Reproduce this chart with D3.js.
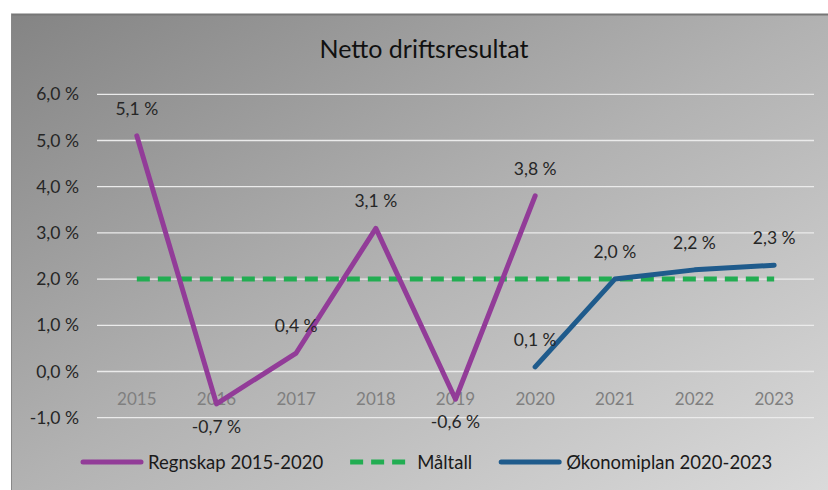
<!DOCTYPE html>
<html>
<head>
<meta charset="utf-8">
<script src="https://cdn.jsdelivr.net/npm/d3@7"></script>
<style>
  body { margin: 0; background: #fff; }
  text { font-family: Lato, "Open Sans", sans-serif; }
</style>
</head>
<body>
<div id="container"></div>
<script>
/** DATA */
const years = ["2015", "2016", "2017", "2018", "2019", "2020", "2021", "2022", "2023"];
const regnskapYears = ["2015", "2016", "2017", "2018", "2019", "2020"];
const regnskap = [5.1, -0.7, 0.4, 3.1, -0.6, 3.8];
const maltall = [2.0, 2.0, 2.0, 2.0, 2.0, 2.0, 2.0, 2.0, 2.0];
const planYears = ["2020", "2021", "2022", "2023"];
const okonomiplan = [0.1, 2.0, 2.2, 2.3];
const yTicks = [-1, 0, 1, 2, 3, 4, 5, 6];
const seriesNames = ["Regnskap 2015-2020", "Måltall", "Økonomiplan 2020-2023"];

/** CONSTANTS */
const width = 828, height = 490;
const colors = { regnskap: "#923c98", maltall: "#22ad52", plan: "#1f5b8c" };
const fmt = v => d3.format(".1f")(v).replace(".", ",").replace("\u2212", "-") + " %";

const svg = d3.select("#container")
  .append("svg")
  .attr("width", width)
  .attr("height", height);

// background panel with diagonal gradient
const grad = svg.append("defs").append("linearGradient")
  .attr("id", "bg")
  .attr("x1", 0).attr("y1", 0).attr("x2", 1).attr("y2", 1);
grad.append("stop").attr("offset", "0%").attr("stop-color", "#848484");
grad.append("stop").attr("offset", "50%").attr("stop-color", "#b2b2b2");
grad.append("stop").attr("offset", "100%").attr("stop-color", "#dadada");

svg.append("rect")
  .attr("x", 11).attr("y", 14)
  .attr("width", width - 11).attr("height", height - 14)
  .attr("fill", "url(#bg)");
svg.append("line")
  .attr("x1", 11).attr("x2", width).attr("y1", 14.5).attr("y2", 14.5)
  .attr("stroke", "#777").attr("stroke-width", 2);
svg.append("line")
  .attr("x1", 11.5).attr("x2", 11.5).attr("y1", 14).attr("y2", height)
  .attr("stroke", "#888").attr("stroke-width", 1);

// scales
const x = d3.scalePoint()
  .domain(years)
  .range([97, 814])
  .padding(0.5);

const y = d3.scaleLinear()
  .domain([-1, 6])
  .range([417.7, 94.3]);

// title
svg.append("text")
  .attr("x", 424).attr("y", 58)
  .attr("text-anchor", "middle")
  .attr("font-size", 25)
  .attr("fill", "#111")
  .text("Netto driftsresultat");

// gridlines
svg.append("g")
  .selectAll("line")
  .data(yTicks)
  .join("line")
  .attr("x1", 97).attr("x2", 814)
  .attr("y1", d => y(d)).attr("y2", d => y(d))
  .attr("stroke", "#ebebeb")
  .attr("stroke-width", 1.3);

// y axis labels
svg.append("g")
  .selectAll("text")
  .data(yTicks)
  .join("text")
  .attr("x", 79)
  .attr("y", d => y(d) + 6)
  .attr("text-anchor", "end")
  .attr("font-size", 17.5)
  .attr("fill", "#262626")
  .text(d => fmt(d));

// x axis labels
svg.append("g")
  .selectAll("text")
  .data(years)
  .join("text")
  .attr("x", d => x(d))
  .attr("y", 405)
  .attr("text-anchor", "middle")
  .attr("font-size", 17)
  .attr("fill", "#7f7f7f")
  .text(d => d);

const line = d3.line()
  .x(d => x(d[0]))
  .y(d => y(d[1]));

// Måltall (dashed)
svg.append("path")
  .datum(years.map((yr, i) => [yr, maltall[i]]))
  .attr("d", line)
  .attr("fill", "none")
  .attr("stroke", colors.maltall)
  .attr("stroke-width", 5)
  .attr("stroke-dasharray", "13,8");

// Regnskap
const regData = regnskapYears.map((yr, i) => [yr, regnskap[i]]);
svg.append("path")
  .datum(regData)
  .attr("d", line)
  .attr("fill", "none")
  .attr("stroke", colors.regnskap)
  .attr("stroke-width", 5)
  .attr("stroke-linejoin", "round")
  .attr("stroke-linecap", "round");

// Økonomiplan
const planData = planYears.map((yr, i) => [yr, okonomiplan[i]]);
svg.append("path")
  .datum(planData)
  .attr("d", line)
  .attr("fill", "none")
  .attr("stroke", colors.plan)
  .attr("stroke-width", 5)
  .attr("stroke-linejoin", "round")
  .attr("stroke-linecap", "round");

// data labels
svg.append("g")
  .selectAll("text")
  .data(regData.concat(planData))
  .join("text")
  .attr("x", d => x(d[0]))
  .attr("y", d => d[1] < 0 ? y(d[1]) + 29 : y(d[1]) - 21)
  .attr("text-anchor", "middle")
  .attr("font-size", 17.5)
  .attr("fill", "#262626")
  .text(d => fmt(d[1]));

// legend
const legend = svg.append("g").attr("transform", "translate(0,462)");
const legendStyles = [
  { color: colors.regnskap, dash: null, cap: "round" },
  { color: colors.maltall, dash: "13,8", cap: "butt" },
  { color: colors.plan, dash: null, cap: "round" }
];
let lx = 81;
seriesNames.forEach((name, i) => {
  const st = legendStyles[i];
  legend.append("line")
    .attr("x1", lx + (st.cap === "round" ? 2 : 0))
    .attr("x2", lx + 62 - (st.cap === "round" ? 2 : 0))
    .attr("y1", 0).attr("y2", 0)
    .attr("stroke", st.color)
    .attr("stroke-width", 5)
    .attr("stroke-linecap", st.cap)
    .attr("stroke-dasharray", st.dash);
  const t = legend.append("text")
    .attr("x", lx + 67)
    .attr("y", 7)
    .attr("font-size", 18.5)
    .attr("fill", "#1a1a1a")
    .text(name);
  lx += 67 + t.node().getComputedTextLength() + 27;
});
</script>
</body>
</html>
